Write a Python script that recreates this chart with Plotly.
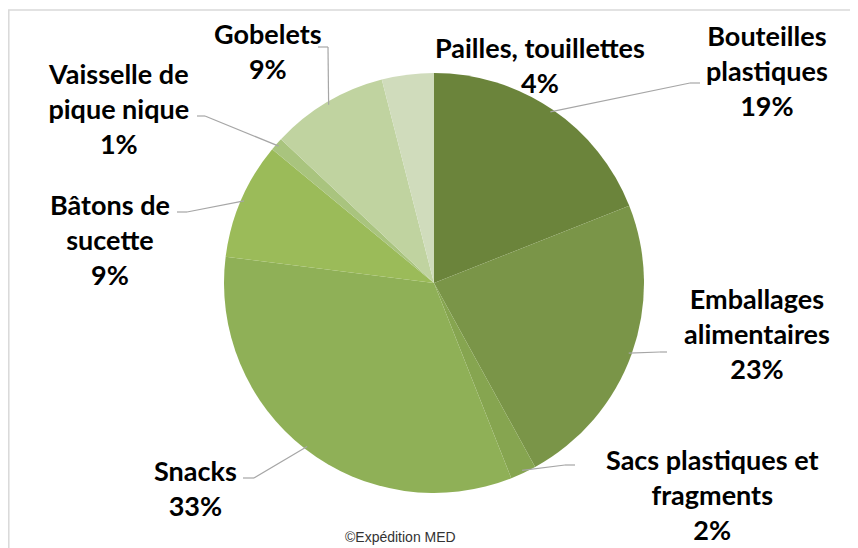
import numpy as np
import plotly.graph_objects as go

# page body has an 8px margin, so the figure is drawn 8px smaller and offset
W, H = 858, 548
OFF = 8
FW, FH = W - OFF, H - OFF

# data
labels = ["Bouteilles plastiques", "Emballages alimentaires", "Sacs plastiques et fragments",
          "Snacks", "Bâtons de sucette", "Vaisselle de pique nique", "Gobelets",
          "Pailles, touillettes"]
values = [19, 23, 2, 33, 9, 1, 9, 4]
label_text = ["Bouteilles<br>plastiques", "Emballages<br>alimentaires", "Sacs plastiques et<br>fragments",
              "Snacks", "Bâtons de<br>sucette", "Vaisselle de<br>pique nique", "Gobelets",
              "Pailles, touillettes"]
colors = ["#6b843b", "#7a9548", "#86a550", "#8fb057", "#9bbb59", "#a9c47e", "#c0d3a0", "#d0dcbc"]

# layout (page pixels)
cx, cy, r = 434, 283, 210
label_pos = [(767, 70), (757, 333), (712, 494), (195, 488), (110, 239), (118, 109), (268, 51), (540, 65)]
elbows = [((690, 83), (700, 83)), ((660, 352), (667, 352)), ((565, 465), (575, 465)),
          ((254, 478), (243, 478)), ((187, 212), (177, 212)), ((205, 116), (197, 116)),
          ((328, 47), (318, 47)), None]


def px(x, y):
    return (x - OFF) / FW, 1 - (y - OFF) / FH


x0d, y1d = px(cx - r, cy - r)
x1d, y0d = px(cx + r, cy + r)

fig = go.Figure(go.Pie(
    labels=labels, values=values, sort=False, direction="clockwise", rotation=0,
    marker=dict(colors=colors, line=dict(width=0)), textinfo="none", hoverinfo="label+percent",
    domain=dict(x=[x0d, x1d], y=[y0d, y1d]),
    showlegend=False,
))

# leader lines from slice midpoints
total = sum(values)
cum = 0
shapes = []
for v, el in zip(values, elbows):
    mid = (cum + v / 2) / total * 2 * np.pi
    cum += v
    if el is None:
        continue
    ex, ey = cx + (r - 3) * np.sin(mid), cy - (r - 3) * np.cos(mid)
    pts = [(ex, ey), el[0], el[1]]
    for (xa, ya), (xb, yb) in zip(pts[:-1], pts[1:]):
        a, b = px(xa, ya)
        c, d = px(xb, yb)
        shapes.append(dict(type="line", xref="paper", yref="paper", x0=a, y0=b, x1=c, y1=d,
                           line=dict(color="#a6a6a6", width=1.2)))

# chart border (runs off the right and bottom edges)
bx0, by1 = px(8.8, 10)
shapes.append(dict(type="rect", xref="paper", yref="paper", x0=bx0, y0=-0.05, x1=1.05, y1=by1,
                   line=dict(color="#d9d9d9", width=1.5)))

annotations = []
for t, v, (x, y) in zip(label_text, values, label_pos):
    a, b = px(x, y)
    annotations.append(dict(x=a, y=b, xref="paper", yref="paper", showarrow=False,
                            text=f"<b>{t}<br>{v}%</b>", xanchor="center", yanchor="middle",
                            font=dict(family="Lato", size=27, color="#000000")))

a, b = px(400, 537)
annotations.append(dict(x=a, y=b, xref="paper", yref="paper", showarrow=False, text="©Expédition MED",
                        xanchor="center", yanchor="middle",
                        font=dict(family="Liberation Sans", size=14, color="#333333")))

fig.update_layout(
    width=FW, height=FH, margin=dict(l=0, r=0, t=0, b=0),
    paper_bgcolor="white", plot_bgcolor="white",
    shapes=shapes, annotations=annotations,
)

fig.write_html("out.html")
